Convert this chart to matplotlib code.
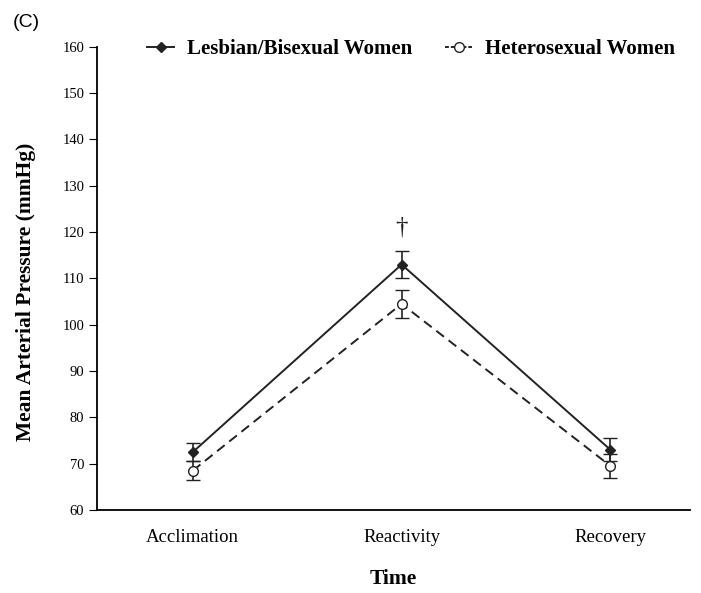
import matplotlib.pyplot as plt
from matplotlib.lines import Line2D

times = ["Acclimation", "Reactivity", "Recovery"]
lesbian = [72.5, 113.0, 73.0]
lesbian_err = [2.0, 3.0, 2.5]
hetero = [68.5, 104.5, 69.5]
hetero_err = [2.0, 3.0, 2.5]
yticks = list(range(60, 161, 10))

plt.rcParams["font.family"] = ["Liberation Serif", "DejaVu Serif"]

fig = plt.figure(figsize=(7.01, 5.93), dpi=100)
ax = fig.add_axes([0.138, 0.14, 0.846, 0.781])

x = list(range(len(times)))
ax.errorbar(x, lesbian, yerr=lesbian_err, color="#222222", marker="D", markersize=5.5,
            markerfacecolor="#222222", linestyle="-", linewidth=1.4, capsize=5,
            elinewidth=1.2, zorder=3)
ax.errorbar(x, hetero, yerr=hetero_err, color="#222222", marker="o", markersize=7,
            markerfacecolor="white", linestyle=(0, (5, 3)), linewidth=1.4, capsize=5,
            elinewidth=1.2, zorder=3)

ax.text(1, 121, "\u2020", ha="center", va="center", fontsize=18, color="#222222")

ax.set_xlim(-0.46, 2.38)
ax.set_ylim(60, 160)
ax.set_yticks(yticks)
ax.set_xticks(x)
ax.set_xticklabels(times, fontsize=13.5)
ax.tick_params(axis="x", length=0, pad=14)
ax.tick_params(axis="y", labelsize=10.5, length=6, direction="out", pad=3)
for side in ["top", "right"]:
    ax.spines[side].set_visible(False)
for side in ["left", "bottom"]:
    ax.spines[side].set_linewidth(1.3)

ax.set_ylabel("Mean Arterial Pressure (mmHg)", fontsize=15.5, fontweight="bold")
ax.yaxis.set_label_coords(-0.103, 0.47)
ax.set_xlabel("Time", fontsize=15.5, fontweight="bold", labelpad=16)

handles = [
    Line2D([], [], color="#222222", marker="D", markersize=5.5, markerfacecolor="#222222",
           linestyle="-", linewidth=1.4),
    Line2D([], [], color="#222222", marker="o", markersize=7, markerfacecolor="white",
           linestyle=(0, (2, 1)), linewidth=1.4),
]
ax.legend(handles, ["Lesbian/Bisexual Women", "Heterosexual Women"],
          loc="center", bbox_to_anchor=(0.53, 0.995), ncol=2, frameon=False,
          prop={"weight": "bold", "size": 15}, handlelength=1.3,
          columnspacing=1.6, handletextpad=0.6)

fig.text(0.018, 0.955, "(C)", fontsize=14, family="Liberation Sans")

fig.savefig("out.png", dpi=100)
